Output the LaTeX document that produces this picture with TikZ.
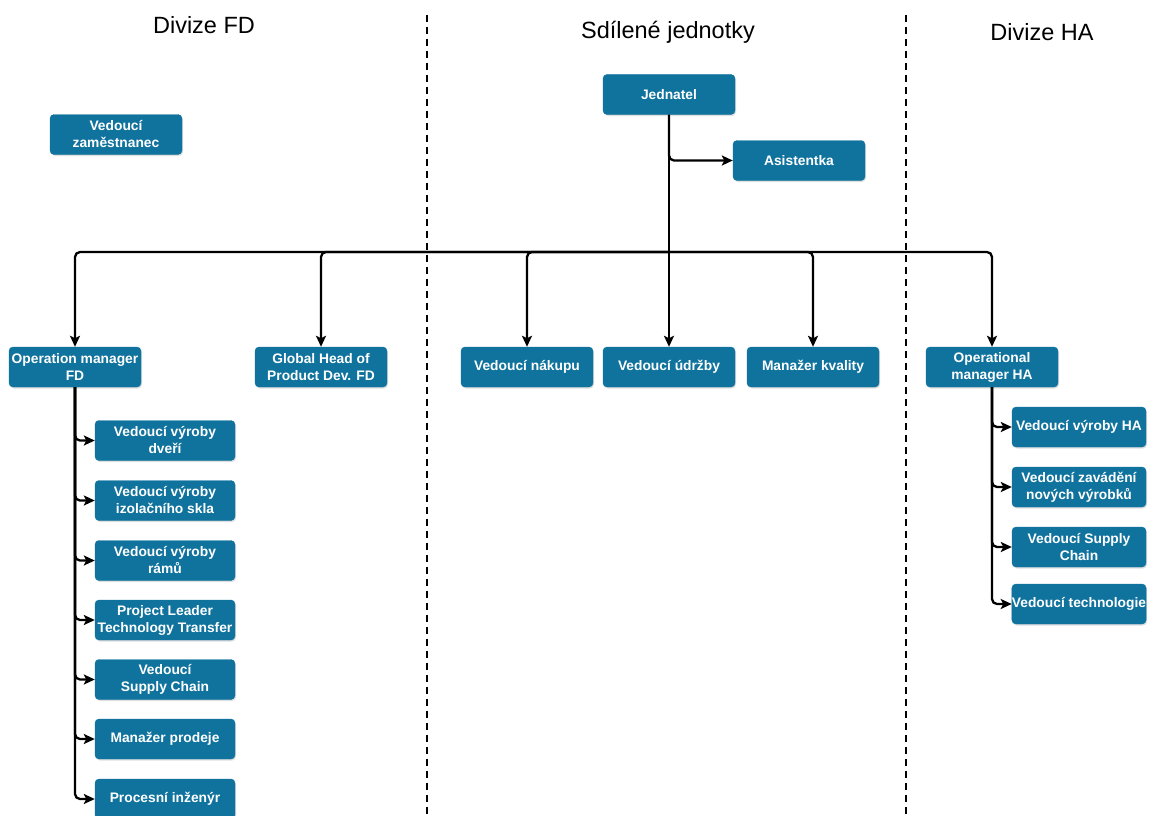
\documentclass[tikz,border=0pt]{standalone}
\usepackage{fontspec}
\setmainfont{Liberation Sans}
\usetikzlibrary{arrows.meta,shadows}
\definecolor{boxblue}{HTML}{10739E}
\begin{document}
\begin{tikzpicture}[x=1pt,y=-1pt,
  box/.style={draw=boxblue,fill=boxblue,rounded corners=4pt,minimum width=132pt,minimum height=40pt,
    text=white,font=\fontsize{13.8}{17}\selectfont\bfseries,align=center,inner sep=0pt,
    drop shadow={shadow xshift=1pt,shadow yshift=-1.5pt,opacity=0.25}},
  wbox/.style={box,minimum width=140pt},
  hbox/.style={box,minimum width=134pt},
  arr/.style={line width=2.3pt,-{Stealth[length=11pt,width=10pt,inset=2.5pt]},rounded corners=5pt},
  ln/.style={line width=2.3pt},
  hdr/.style={font=\fontsize{23.5}{28}\selectfont},
  sep/.style={line width=2.2pt,dash pattern=on 7pt off 5pt}]
\useasboundingbox (0,0) rectangle (1151,816);
\clip (0,0) rectangle (1151,816);
% headers
\node[hdr] (h1) at (204,25) {Divize FD};
\node[hdr] (h2) at (668,32) {Sdílené jednotky};
\node[hdr] (h3) at (1042,32) {Divize HA};
% separators
\coordinate (s1a) at (427,15); \coordinate (s1b) at (427,816);
\coordinate (s2a) at (906,15); \coordinate (s2b) at (906,816);
\draw[sep] (s1a) -- (s1b);
\draw[sep] (s2a) -- (s2b);
% boxes
\node[box] (vz) at (116,134.5) {Vedoucí\\zaměstnanec};
\node[box] (jed) at (669,94.5) {Jednatel};
\node[box] (asi) at (799,160.5) {Asistentka};
\node[box] (omfd) at (75,367) {Operation manager\\FD};
\node[box] (ghp) at (321,367) {Global Head of\\Product Dev. FD};
\node[box] (nak) at (527,367) {Vedoucí nákupu};
\node[box] (udr) at (669,367) {Vedoucí údržby};
\node[box] (kva) at (813,367) {Manažer kvality};
\node[box] (omha) at (992,367) {Operational\\manager HA};
\node[wbox] (f1) at (165,440.5) {Vedoucí výroby\\dveří};
\node[wbox] (f2) at (165,500.5) {Vedoucí výroby\\izolačního skla};
\node[wbox] (f3) at (165,560.5) {Vedoucí výroby\\rámů};
\node[wbox] (f4) at (165,620) {Project Leader\\Technology Transfer};
\node[wbox] (f5) at (165,679.5) {Vedoucí\\Supply Chain};
\node[wbox] (f6) at (165,739) {Manažer prodeje};
\node[wbox] (f7) at (165,799) {Procesní inženýr};
\node[hbox] (a1) at (1079,427) {Vedoucí výroby HA};
\node[hbox] (a2) at (1079,487) {Vedoucí zavádění\\nových výrobků};
\node[hbox] (a3) at (1079,547) {Vedoucí Supply\\Chain};
\node[hbox] (a4) at (1079,604) {Vedoucí technologie};
% connectors
\coordinate (hub) at (669,252);
\draw[ln] (jed.south) -- (hub);
\draw[arr] (jed.south) |- (asi.west);
\draw[arr] (hub) -| (omfd.north);
\draw[arr] (hub) -| (ghp.north);
\draw[arr] (hub) -| (nak.north);
\draw[arr] (hub) -- (udr.north);
\draw[arr] (hub) -| (kva.north);
\draw[arr] (hub) -| (omha.north);
\foreach \c in {f1,f2,f3,f4,f5,f6,f7} \draw[arr] (omfd.south) |- (\c.west);
\foreach \c in {a1,a2,a3,a4} \draw[arr] (omha.south) |- (\c.west);
\end{tikzpicture}
\end{document}
